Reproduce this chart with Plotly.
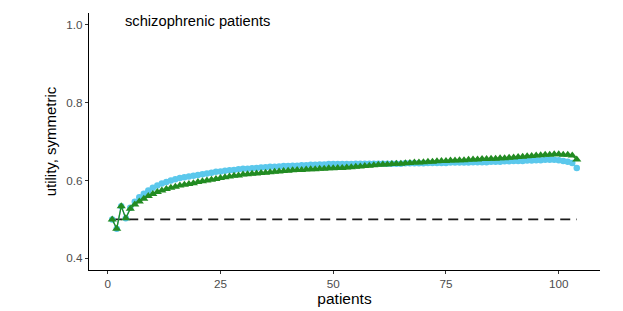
import plotly.graph_objects as go

patients = list(range(1, 105))

green_vals = [
    0.500, 0.476, 0.534, 0.503, 0.527, 0.538, 0.546, 0.553, 0.560, 0.565,
    0.570, 0.574, 0.578, 0.581, 0.584, 0.587, 0.589, 0.591, 0.593, 0.596,
    0.598, 0.600, 0.602, 0.604, 0.606, 0.608, 0.610, 0.612, 0.613, 0.615,
    0.616, 0.617, 0.618, 0.619, 0.620, 0.621, 0.622, 0.623, 0.624, 0.625,
    0.626, 0.627, 0.627, 0.628, 0.629, 0.629, 0.630, 0.630, 0.631, 0.631,
    0.632, 0.632, 0.633, 0.634, 0.635, 0.636, 0.637, 0.638, 0.639, 0.640,
    0.641, 0.641, 0.642, 0.643, 0.643, 0.644, 0.645, 0.646, 0.646, 0.647,
    0.648, 0.648, 0.649, 0.650, 0.650, 0.651, 0.651, 0.652, 0.652, 0.653,
    0.654, 0.654, 0.655, 0.655, 0.656, 0.656, 0.657, 0.657, 0.658, 0.659,
    0.660, 0.661, 0.662, 0.663, 0.664, 0.665, 0.666, 0.666, 0.667, 0.667,
    0.666, 0.666, 0.664, 0.654,
]

blue_vals = [
    0.500, 0.476, 0.534, 0.503, 0.530, 0.545, 0.557, 0.566, 0.574, 0.581,
    0.587, 0.592, 0.596, 0.600, 0.603, 0.606, 0.608, 0.610, 0.612, 0.614,
    0.616, 0.618, 0.620, 0.622, 0.623, 0.625, 0.626, 0.627, 0.629, 0.630,
    0.630, 0.631, 0.632, 0.633, 0.634, 0.635, 0.635, 0.636, 0.637, 0.637,
    0.638, 0.638, 0.639, 0.639, 0.640, 0.640, 0.641, 0.641, 0.642, 0.642,
    0.642, 0.642, 0.642, 0.642, 0.643, 0.643, 0.643, 0.643, 0.643, 0.643,
    0.643, 0.643, 0.643, 0.643, 0.643, 0.644, 0.644, 0.644, 0.644, 0.644,
    0.645, 0.645, 0.645, 0.645, 0.645, 0.646, 0.646, 0.646, 0.646, 0.646,
    0.647, 0.647, 0.647, 0.647, 0.648, 0.648, 0.648, 0.649, 0.649, 0.650,
    0.650, 0.650, 0.651, 0.651, 0.652, 0.652, 0.653, 0.653, 0.653, 0.652,
    0.650, 0.648, 0.645, 0.632,
]

reference_level = 0.5
x_ticks = [0, 25, 50, 75, 100]
y_ticks = [0.4, 0.6, 0.8, 1.0]
title_text = "schizophrenic patients"

BLUE = "#5BC8EC"
GREEN = "#228B22"
FONT = "Liberation Sans, Arial, sans-serif"

fig = go.Figure()

fig.add_trace(go.Scatter(
    x=[patients[0], patients[-1]], y=[reference_level, reference_level],
    mode="lines", line=dict(color="#1a1a1a", width=1.6, dash="10px,6px"),
    showlegend=False, hoverinfo="skip"))

fig.add_trace(go.Scatter(
    x=patients, y=blue_vals, mode="lines+markers",
    line=dict(color=BLUE, width=1.3),
    marker=dict(symbol="circle", size=6.5, color=BLUE),
    showlegend=False))

fig.add_trace(go.Scatter(
    x=patients, y=green_vals, mode="lines+markers",
    line=dict(color=GREEN, width=1.3),
    marker=dict(symbol="triangle-up", size=8, color=GREEN),
    showlegend=False))

fig.add_annotation(
    x=20, y=1.01, xref="x", yref="y", text=title_text, showarrow=False,
    xanchor="center", yanchor="middle",
    font=dict(family=FONT, size=14.7, color="black"))

axis_common = dict(
    showgrid=False, zeroline=False, showline=True, linecolor="black", linewidth=1.2,
    ticks="outside", ticklen=3, tickwidth=1, tickcolor="#333333",
    tickfont=dict(family=FONT, size=11.7, color="#4D4D4D"),
    mirror=False,
)

fig.update_layout(
    width=623, height=311,
    margin=dict(l=81, r=31, t=5, b=49),
    plot_bgcolor="white", paper_bgcolor="white",
    xaxis=dict(range=[-4.15, 109.15], tickvals=x_ticks,
               title=dict(text="patients", standoff=3,
                          font=dict(family=FONT, size=15.5, color="black")),
               **axis_common),
    yaxis=dict(range=[0.37, 1.03], tickvals=y_ticks, tickformat=".1f",
               title=dict(text="utility, symmetric", standoff=6,
                          font=dict(family=FONT, size=15, color="black")),
               **axis_common),
)

fig.write_html("out.html")
